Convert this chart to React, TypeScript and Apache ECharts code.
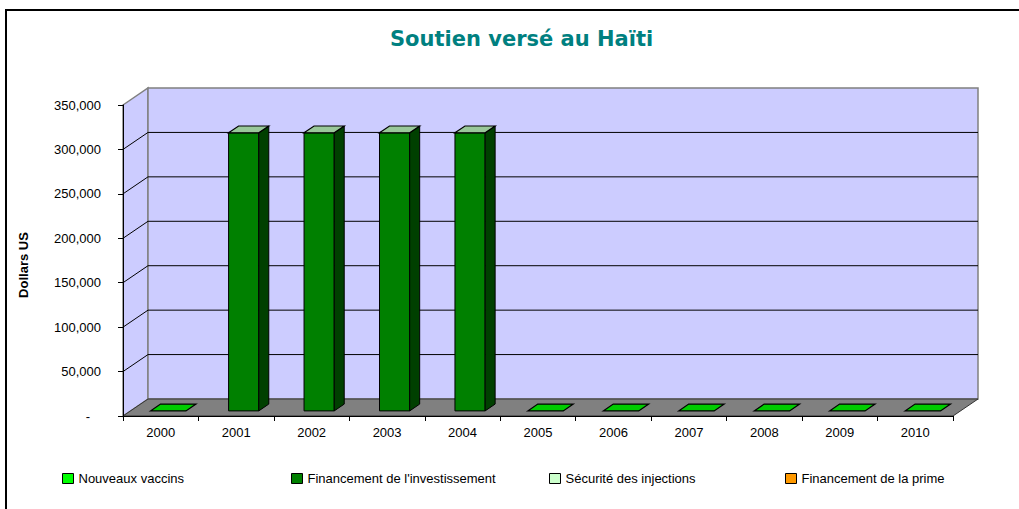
import React, { useEffect, useRef } from "react";
import * as echarts from "echarts";

const years = ["2000", "2001", "2002", "2003", "2004", "2005", "2006", "2007", "2008", "2009", "2010"];
const nouveauxVaccins: (number | null)[] = [0, null, null, null, null, 0, 0, 0, 0, 0, 0];
const financementInvestissement: (number | null)[] = [null, 313000, 313000, 313000, 313000, null, null, null, null, null, null];
const securiteInjections: (number | null)[] = [null, null, null, null, null, null, null, null, null, null, null];
const financementPrime: (number | null)[] = [null, null, null, null, null, null, null, null, null, null, null];
const yTicks = [0, 50000, 100000, 150000, 200000, 250000, 300000, 350000];

const seriesNames = ["Nouveaux vaccins", "Financement de l'investissement", "Sécurité des injections", "Financement de la prime"];
const legendColors = ["#00FF00", "#008000", "#CCFFCC", "#FF9900"];
const faceColors = [
  { front: "#00CC00", side: "#006600", top: "#00CC00" },
  { front: "#008000", side: "#004000", top: "#99C899" },
  { front: "#CCFFCC", side: "#99CC99", top: "#E6FFE6" },
  { front: "#FF9900", side: "#B36B00", top: "#FFCC80" },
];
const legendLefts = [57, 286, 544, 780];

const DX = 25;
const DY = 17;
const F0 = 0.3;
const F1 = 0.7;

export default function App() {
  const ref = useRef<HTMLDivElement>(null);
  useEffect(() => {
    if (!ref.current) return;
    const chart = echarts.init(ref.current, undefined, { renderer: "svg" });
    const font = "Liberation Sans";

    const wallsSeries = {
      type: "custom",
      name: "_walls",
      z: 1,
      silent: true,
      data: [[0, 0]],
      renderItem: (params: any, api: any) => {
        const cs = params.coordSys;
        const x0 = cs.x, x1 = cs.x + cs.width, yT = cs.y, yB = cs.y + cs.height;
        const children: any[] = [];
        children.push({
          type: "polygon",
          shape: { points: [[x0, yT], [x0 + DX, yT - DY], [x0 + DX, yB - DY], [x0, yB]] },
          style: { fill: "#CCCCFF", stroke: "#808080", lineWidth: 1.5 },
        });
        children.push({
          type: "rect",
          shape: { x: x0 + DX, y: yT - DY, width: cs.width, height: cs.height },
          style: { fill: "#CCCCFF", stroke: "#808080", lineWidth: 1.5 },
        });
        for (const v of yTicks) {
          if (v === 0 || v === yTicks[yTicks.length - 1]) continue;
          const y = api.coord([0, v])[1];
          children.push({
            type: "line",
            shape: { x1: x0 + DX, y1: y - DY, x2: x1 + DX, y2: y - DY },
            style: { stroke: "#000", lineWidth: 1 },
          });
          children.push({
            type: "line",
            shape: { x1: x0, y1: y, x2: x0 + DX, y2: y - DY },
            style: { stroke: "#000", lineWidth: 1 },
          });
        }
        children.push({
          type: "polygon",
          shape: { points: [[x0, yB], [x1, yB], [x1 + DX, yB - DY], [x0 + DX, yB - DY]] },
          style: { fill: "#808080", stroke: "#333", lineWidth: 1 },
        });
        return { type: "group", children };
      },
    };

    const makeBarSeries = (k: number, values: (number | null)[]) => ({
      type: "custom",
      name: seriesNames[k],
      z: 2,
      itemStyle: { color: legendColors[k] },
      data: values.map((v, i) => [i, v == null ? NaN : v]),
      renderItem: (params: any, api: any) => {
        const v = api.value(1);
        if (v == null || isNaN(v)) return null;
        const i = api.value(0);
        const base = api.coord([i, 0]);
        const top = api.coord([i, v]);
        const bw = api.size([1, 0])[0] * (v > 0 ? 0.4 : 0.47);
        const ox0 = DX * F0, oy0 = -DY * F0, ox1 = DX * F1, oy1 = -DY * F1;
        const xl = base[0] - bw / 2, xr = base[0] + bw / 2;
        const yt = top[1], yb = base[1];
        const c = faceColors[k];
        const children: any[] = [];
        if (v > 0) {
          children.push({
            type: "polygon",
            shape: { points: [[xl + ox0, yt + oy0], [xr + ox0, yt + oy0], [xr + ox0, yb + oy0], [xl + ox0, yb + oy0]] },
            style: { fill: c.front, stroke: "#000", lineWidth: 1 },
          });
          children.push({
            type: "polygon",
            shape: { points: [[xr + ox0, yt + oy0], [xr + ox1, yt + oy1], [xr + ox1, yb + oy1], [xr + ox0, yb + oy0]] },
            style: { fill: c.side, stroke: "#000", lineWidth: 1 },
          });
        }
        children.push({
          type: "polygon",
          shape: { points: [[xl + ox0, yt + oy0], [xl + ox1, yt + oy1], [xr + ox1, yt + oy1], [xr + ox0, yt + oy0]] },
          style: { fill: c.top, stroke: "#000", lineWidth: 1.2 },
        });
        return { type: "group", children };
      },
    });

    const option: any = {
      animation: false,
      backgroundColor: "#fff",
      title: {
        text: "Soutien versé au Haïti",
        left: 385,
        top: 23,
        textStyle: { fontFamily: "DejaVu Sans", fontWeight: "bold", fontSize: 21, color: "#008080" },
      },
      grid: { left: 123, right: 66, top: 105, bottom: 93 },
      xAxis: {
        type: "category",
        data: years,
        z: 10,
        axisLine: { lineStyle: { color: "#000", width: 1 } },
        axisTick: { show: true, length: 5, interval: 0, lineStyle: { color: "#000" } },
        axisLabel: { interval: 0, margin: 10, color: "#000", fontFamily: font, fontSize: 13 },
        splitLine: { show: false },
      },
      yAxis: {
        type: "value",
        min: 0,
        max: 350000,
        interval: 50000,
        z: 10,
        axisLine: { show: true, lineStyle: { color: "#000", width: 1 } },
        axisTick: { show: true, length: 5, lineStyle: { color: "#000" } },
        axisLabel: {
          margin: 22,
          color: "#000",
          fontFamily: font,
          fontSize: 13,
          formatter: (v: number) => (v === 0 ? "-   " : v.toLocaleString("en-US")),
        },
        splitLine: { show: false },
      },
      legend: seriesNames.map((n, k) => ({
        data: [{ name: n, icon: "rect", itemStyle: { color: legendColors[k], borderColor: "#000", borderWidth: 1 } }],
        left: legendLefts[k],
        top: 467,
        itemWidth: 11,
        itemHeight: 10,
        selectedMode: false,
        textStyle: { fontFamily: font, fontSize: 13, color: "#000" },
      })),
      graphic: [
        {
          type: "rect",
          shape: { x: 6, y: 10, width: 1100, height: 1100 },
          style: { fill: "none", stroke: "#000", lineWidth: 2 },
          silent: true,
        },
        {
          type: "text",
          x: 23,
          y: 265,
          rotation: Math.PI / 2,
          style: {
            text: "Dollars US",
            fill: "#000",
            font: "bold 13px 'Liberation Sans'",
            align: "center",
            verticalAlign: "middle",
            textAlign: "center",
            textVerticalAlign: "middle",
          },
        },
      ],
      series: [
        wallsSeries,
        makeBarSeries(0, nouveauxVaccins),
        makeBarSeries(1, financementInvestissement),
        makeBarSeries(2, securiteInjections),
        makeBarSeries(3, financementPrime),
      ],
    };
    chart.setOption(option);
    return () => chart.dispose();
  }, []);
  return <div ref={ref} style={{ position: "fixed", left: 0, top: 0, width: 1019, height: 509, background: "#fff" }} />;
}
